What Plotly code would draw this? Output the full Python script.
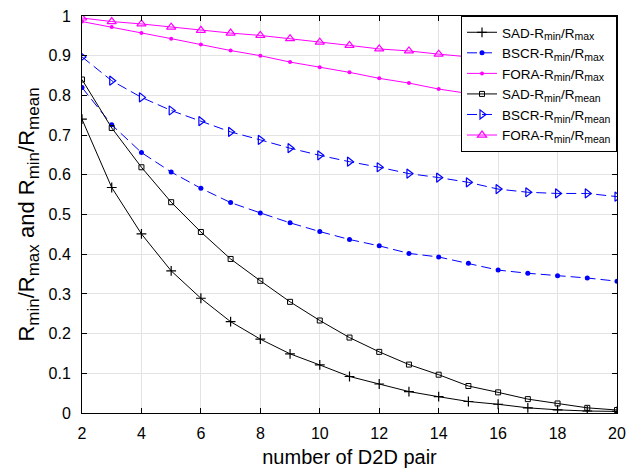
import plotly.graph_objects as go

x = list(range(2, 21))

sad_max = [0.740, 0.568, 0.451, 0.358, 0.289, 0.230, 0.186, 0.149, 0.121, 0.092,
           0.073, 0.054, 0.041, 0.029, 0.022, 0.013, 0.008, 0.005, 0.004]
bscr_max = [0.820, 0.726, 0.656, 0.607, 0.566, 0.530, 0.504, 0.479, 0.457, 0.437,
            0.421, 0.402, 0.393, 0.377, 0.360, 0.352, 0.346, 0.340, 0.332]
fora_max = [0.986, 0.972, 0.957, 0.943, 0.928, 0.913, 0.900, 0.884, 0.871, 0.858,
            0.843, 0.831, 0.816, 0.805, 0.793, 0.782, 0.771, 0.760, 0.748]
sad_mean = [0.840, 0.718, 0.619, 0.531, 0.456, 0.388, 0.333, 0.280, 0.233, 0.190,
            0.154, 0.122, 0.0965, 0.068, 0.052, 0.035, 0.024, 0.013, 0.0075]
bscr_mean = [0.897, 0.837, 0.795, 0.762, 0.735, 0.708, 0.688, 0.667, 0.649, 0.633,
             0.619, 0.603, 0.593, 0.581, 0.564, 0.556, 0.553, 0.553, 0.545]
fora_mean = [0.995, 0.986, 0.980, 0.972, 0.964, 0.957, 0.951, 0.943, 0.934, 0.926,
             0.917, 0.912, 0.904, 0.897, 0.890, 0.883, 0.876, 0.869, 0.862]


def ls(t):
    return '<sub><span style="font-size:10.5px">' + t + '</span></sub>'


names = ["SAD-R" + ls("min") + "/R" + ls("max"),
         "BSCR-R" + ls("min") + "/R" + ls("max"),
         "FORA-R" + ls("min") + "/R" + ls("max"),
         "SAD-R" + ls("min") + "/R" + ls("mean"),
         "BSCR-R" + ls("min") + "/R" + ls("mean"),
         "FORA-R" + ls("min") + "/R" + ls("mean")]
series = [sad_max, bscr_max, fora_max, sad_mean, bscr_mean, fora_mean]

styles = [
    dict(color="#000000", dash="solid", symbol="cross-thin", size=7, mlw=1.2),
    dict(color="#0000ff", dash="10px,5px", symbol="circle", size=5, mlw=0),
    dict(color="#ff00ff", dash="solid", symbol="circle", size=4, mlw=0),
    dict(color="#000000", dash="solid", symbol="square-open", size=5, mlw=1),
    dict(color="#0000ff", dash="10px,5px", symbol="triangle-right-open", size=8, mlw=1.2),
    dict(color="#ff00ff", dash="solid", symbol="triangle-up-open", size=8, mlw=1.2),
]

fig = go.Figure()
for name, ys, st in zip(names, series, styles):
    fig.add_trace(go.Scatter(
        x=x, y=ys, name=name, mode="lines+markers",
        line=dict(color=st["color"], width=1, dash=st["dash"]),
        marker=dict(symbol=st["symbol"], size=st["size"], color=st["color"],
                    line=dict(color=st["color"], width=st["mlw"])),
    ))


def s(t):
    return '<sub><span style="font-size:17px">' + t + '</span></sub>'


ytitle = "R" + s("min") + "/R" + s("max") + " and R" + s("min") + "/R" + s("mean")

font_family = "Liberation Sans, Arial, sans-serif"
fig.update_layout(
    width=628, height=471,
    margin=dict(l=82, r=11, t=16, b=58),
    paper_bgcolor="white", plot_bgcolor="white",
    font=dict(family=font_family, color="black", size=16),
    showlegend=True,
    legend=dict(x=1, y=1, xanchor="right", yanchor="top",
                bgcolor="white", bordercolor="black", borderwidth=1,
                font=dict(size=13.5, family=font_family),
                tracegroupgap=0, itemwidth=30),
    xaxis=dict(range=[2, 20], dtick=2, tick0=2, automargin=False,
               showgrid=True, gridcolor="#e3e3e3", gridwidth=1,
               showline=True, linecolor="black", linewidth=1, mirror="ticks",
               ticks="inside", ticklen=5, tickcolor="black",
               zeroline=False, tickfont=dict(size=16), ticklabelstandoff=6,
               title=dict(text="number of D2D pair", font=dict(size=20), standoff=8)),
    yaxis=dict(range=[0, 1], dtick=0.1, tick0=0, automargin=False,
               showgrid=True, gridcolor="#e3e3e3", gridwidth=1,
               showline=True, linecolor="black", linewidth=1, mirror="ticks",
               ticks="inside", ticklen=5, tickcolor="black",
               zeroline=False, tickfont=dict(size=16), ticklabelstandoff=7,
               title=dict(text=ytitle, font=dict(size=22), standoff=7)),
)

fig.write_html("out.html")
